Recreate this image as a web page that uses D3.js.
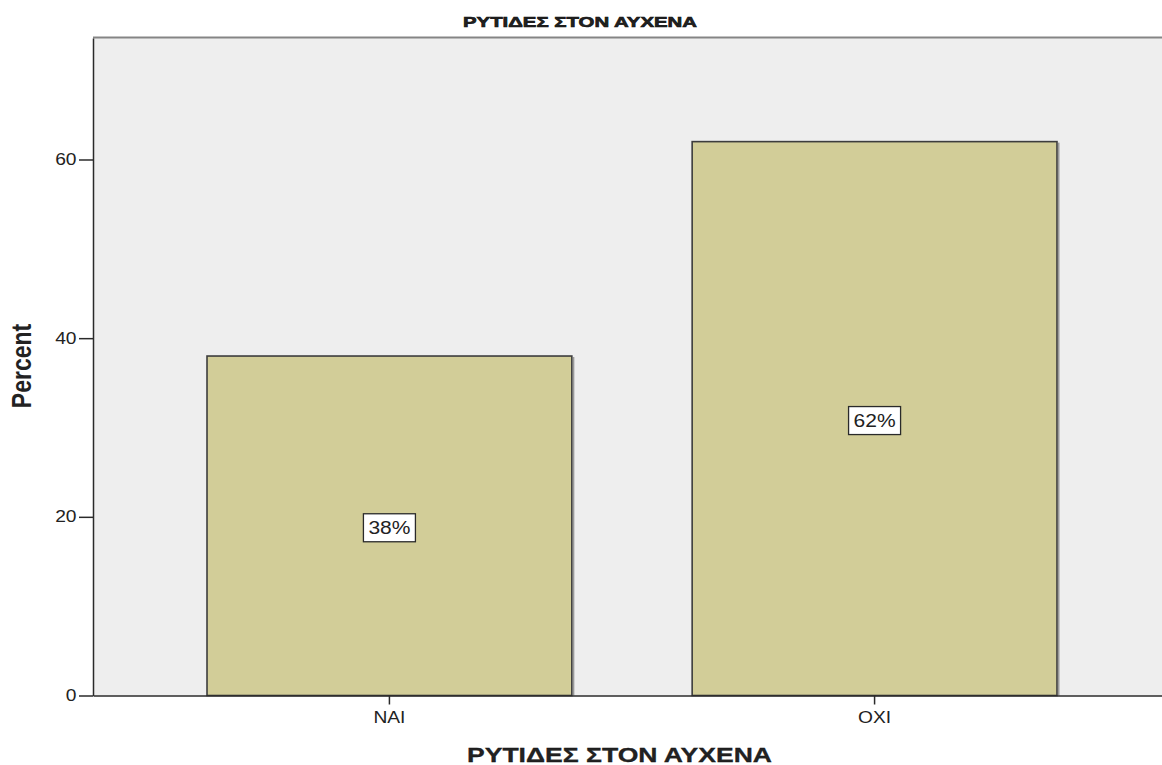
<!DOCTYPE html>
<html>
<head>
<meta charset="utf-8">
<script src="https://cdn.jsdelivr.net/npm/d3@7"></script>
<style>
  html, body { margin: 0; padding: 0; background: #fff; }
  svg { display: block; }
  text { font-family: "Liberation Sans", Arial, sans-serif; fill: #222; }
</style>
</head>
<body>
<svg id="chart" width="1162" height="765"></svg>
<script>
// Data
const categories = ["ΝΑΙ", "ΟΧΙ"];
const percents = [38, 62];
const yTicks = [0, 20, 40, 60];
const chartTitle = "ΡΥΤΙΔΕΣ ΣΤΟΝ ΑΥΧΕΝΑ";
const xTitle = "ΡΥΤΙΔΕΣ ΣΤΟΝ ΑΥΧΕΝΑ";
const yTitle = "Percent";

const W = 1162, H = 765;
const plot = { left: 93, top: 38, right: 1171, bottom: 695.5 };
const stretchX = 1.2; // glyphs are drawn wide

const svg = d3.select("#chart");

const x = d3.scaleBand()
  .domain(categories)
  .range([plot.left, plot.right])
  .paddingInner(0.248)
  .paddingOuter(0.235);

const y = d3.scaleLinear()
  .domain([0, 73.6])
  .range([plot.bottom, plot.top]);

function widen(sel) {
  sel.each(function () {
    const len = this.getComputedTextLength();
    d3.select(this).attr("textLength", len * stretchX).attr("lengthAdjust", "spacingAndGlyphs");
  });
}

// plot background
svg.append("rect")
  .attr("x", plot.left).attr("y", plot.top)
  .attr("width", plot.right - plot.left).attr("height", plot.bottom - plot.top)
  .attr("fill", "#eeeeee");

// top frame line
svg.append("line")
  .attr("x1", plot.left).attr("x2", W)
  .attr("y1", plot.top - 0.5).attr("y2", plot.top - 0.5)
  .attr("stroke", "#858585").attr("stroke-width", 2);

const barData = categories.map((c, i) => ({ c, v: percents[i] }));

// soft shadow along the right edge of each bar
svg.append("g").selectAll("rect")
  .data(barData)
  .join("rect")
  .attr("x", d => x(d.c) + x.bandwidth() + 1)
  .attr("y", d => y(d.v) + 1)
  .attr("width", 1.5)
  .attr("height", d => y(0) - y(d.v) - 1)
  .attr("fill", "#9a9a9a");

// bars
svg.append("g").selectAll("rect")
  .data(barData)
  .join("rect")
  .attr("x", d => x(d.c))
  .attr("y", d => y(d.v))
  .attr("width", x.bandwidth())
  .attr("height", d => y(0) - y(d.v))
  .attr("fill", "#d2cd98")
  .attr("stroke", "#3d3d3d")
  .attr("stroke-width", 1.6);

// y axis
const gy = svg.append("g")
  .attr("transform", `translate(${plot.left},0)`)
  .call(d3.axisLeft(y).tickValues(yTicks).tickSize(14).tickPadding(2.5).tickSizeOuter(0));
gy.select(".domain").attr("stroke", "#2a2a2a").attr("stroke-width", 1.5);
gy.selectAll(".tick line").attr("stroke", "#2a2a2a").attr("stroke-width", 1.5);
gy.selectAll(".tick text")
  .attr("font-family", "Liberation Sans, Arial, sans-serif")
  .attr("font-size", 16).attr("fill", "#2a2a2a")
  .call(widen);

// x axis
const gx = svg.append("g")
  .attr("transform", `translate(0,${plot.bottom})`)
  .call(d3.axisBottom(x).tickSize(9).tickPadding(7).tickSizeOuter(0));
gx.select(".domain").attr("stroke", "#2a2a2a").attr("stroke-width", 1.5);
gx.selectAll(".tick line").attr("stroke", "#2a2a2a").attr("stroke-width", 1.5);
gx.selectAll(".tick text")
  .attr("font-family", "Liberation Sans, Arial, sans-serif")
  .attr("font-size", 16).attr("fill", "#2a2a2a")
  .call(widen);

// value labels in boxes
const labels = svg.append("g").selectAll("g")
  .data(barData)
  .join("g")
  .attr("transform", d => `translate(${x(d.c) + x.bandwidth() / 2},${y(d.v / 2) + 2})`);
labels.append("rect")
  .attr("x", -26).attr("y", -14).attr("width", 52).attr("height", 28)
  .attr("fill", "#fff").attr("stroke", "#2a2a2a").attr("stroke-width", 1.3);
labels.append("text")
  .attr("text-anchor", "middle")
  .attr("y", 6.3)
  .attr("font-size", 17.5)
  .text(d => d.v + "%")
  .call(widen);

// chart title (heavy, wide caps)
svg.append("text")
  .attr("x", 580).attr("y", 27.3)
  .attr("text-anchor", "middle")
  .attr("font-size", 14).attr("font-weight", "bold").attr("fill", "#111")
  .attr("stroke", "#111").attr("stroke-width", 0.6)
  .attr("textLength", 234).attr("lengthAdjust", "spacingAndGlyphs")
  .text(chartTitle);

// x axis title
svg.append("text")
  .attr("x", 619.5).attr("y", 761.5)
  .attr("text-anchor", "middle")
  .attr("font-size", 21).attr("font-weight", "bold").attr("fill", "#111")
  .attr("stroke", "#111").attr("stroke-width", 0.3)
  .attr("textLength", 305).attr("lengthAdjust", "spacingAndGlyphs")
  .text(xTitle);

// y axis title
svg.append("text")
  .attr("transform", `translate(30.5,366) scale(${stretchX},1) rotate(-90)`)
  .attr("text-anchor", "middle")
  .attr("font-size", 23).attr("font-weight", "bold").attr("fill", "#111")
  .text(yTitle);
</script>
</body>
</html>
